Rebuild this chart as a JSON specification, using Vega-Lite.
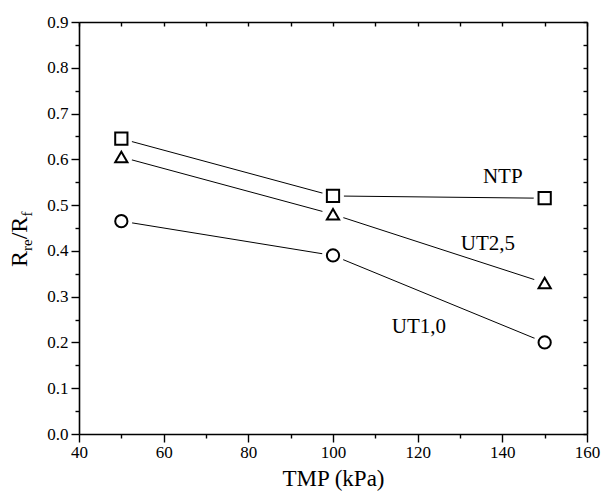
{
  "$schema": "https://vega.github.io/schema/vega-lite/v6.json",
  "width": 508,
  "height": 412,
  "autosize": {"type": "none"},
  "padding": {"left": 79, "top": 22, "right": 14, "bottom": 63},
  "background": "white",
  "config": {
    "view": {"stroke": null},
    "font": "Liberation Serif",
    "text": {"font": "Liberation Serif"},
    "axis": {
      "grid": false,
      "domainColor": "black",
      "domainWidth": 1.6,
      "tickColor": "black",
      "tickWidth": 1.4,
      "labelColor": "black",
      "labelFont": "Liberation Serif",
      "labelFontSize": 17,
      "titleFont": "Liberation Serif",
      "titleColor": "black",
      "titleFontWeight": "normal"
    }
  },
  "datasets": {
    "points": [
      {"series": "NTP", "TMP": 50, "R": 0.645},
      {"series": "NTP", "TMP": 100, "R": 0.52},
      {"series": "NTP", "TMP": 150, "R": 0.515},
      {"series": "UT2,5", "TMP": 50, "R": 0.605},
      {"series": "UT2,5", "TMP": 100, "R": 0.48},
      {"series": "UT2,5", "TMP": 150, "R": 0.33},
      {"series": "UT1,0", "TMP": 50, "R": 0.465},
      {"series": "UT1,0", "TMP": 100, "R": 0.39},
      {"series": "UT1,0", "TMP": 150, "R": 0.2}
    ],
    "notes": [
      {"label": "NTP", "TMP": 140.1, "R": 0.548},
      {"label": "UT2,5", "TMP": 136.6, "R": 0.403},
      {"label": "UT1,0", "TMP": 120.3, "R": 0.221}
    ]
  },
  "data": {"name": "points"},
  "layer": [
    {
      "mark": {"type": "line", "color": "black", "strokeWidth": 1},
      "encoding": {
        "x": {
          "field": "TMP", "type": "quantitative",
          "scale": {"domain": [40, 160], "nice": false, "zero": false},
          "axis": {
            "orient": "bottom", "values": [40, 60, 80, 100, 120, 140, 160],
            "tickSize": 8, "labelPadding": 2, "labelFlush": false,
            "labelFont": "Liberation Serif", "labelFontSize": 17,
            "title": "TMP (kPa)", "titleFontSize": 23, "titlePadding": 7
          }
        },
        "y": {
          "field": "R", "type": "quantitative",
          "scale": {"domain": [0, 0.9], "nice": false, "zero": false},
          "axis": {
            "orient": "left", "values": [0, 0.1, 0.2, 0.3, 0.4, 0.5, 0.6, 0.7, 0.8, 0.9],
            "format": ".1f", "tickSize": 8, "labelPadding": 3, "labelFlush": false,
            "labelFont": "Liberation Serif", "labelFontSize": 17,
            "title": null
          }
        },
        "detail": {"field": "series"}
      }
    },
    {
      "mark": {"type": "point", "shape": "circle", "filled": true, "fill": "white", "strokeWidth": 0, "size": 480, "opacity": 1},
      "encoding": {
        "x": {
          "field": "TMP", "type": "quantitative",
          "axis": {
            "orient": "bottom", "values": [50, 70, 90, 110, 130, 150],
            "tickSize": 4, "labels": false, "domain": false, "title": null
          }
        },
        "y": {
          "field": "R", "type": "quantitative",
          "axis": {
            "orient": "left", "values": [0.05, 0.15, 0.25, 0.35, 0.45, 0.55, 0.65, 0.75, 0.85],
            "tickSize": 4, "labels": false, "domain": false, "title": null
          }
        }
      }
    },
    {
      "mark": {"type": "point", "filled": false, "color": "black", "fill": "white", "strokeWidth": 2, "size": 150, "opacity": 1},
      "encoding": {
        "x": {
          "field": "TMP", "type": "quantitative",
          "axis": {
            "orient": "top", "values": [40, 50, 60, 70, 80, 90, 100, 110, 120, 130, 140, 150, 160],
            "tickSize": -4, "labels": false, "title": null
          }
        },
        "y": {
          "field": "R", "type": "quantitative",
          "axis": {
            "orient": "right", "values": [0, 0.05, 0.1, 0.15, 0.2, 0.25, 0.3, 0.35, 0.4, 0.45, 0.5, 0.55, 0.6, 0.65, 0.7, 0.75, 0.8, 0.85, 0.9],
            "tickSize": -4, "labels": false, "title": null
          }
        },
        "shape": {
          "field": "series", "type": "nominal",
          "scale": {"domain": ["NTP", "UT2,5", "UT1,0"], "range": ["square", "triangle-up", "circle"]},
          "legend": null
        }
      }
    },
    {
      "data": {"name": "notes"},
      "mark": {"type": "text", "fontSize": 21, "font": "Liberation Serif", "align": "center", "baseline": "alphabetic", "color": "black"},
      "encoding": {
        "x": {"field": "TMP", "type": "quantitative", "axis": null},
        "y": {"field": "R", "type": "quantitative", "axis": null},
        "text": {"field": "label"}
      }
    },
    {
      "data": {"values": [{}]},
      "mark": {"type": "text", "text": "R", "angle": 270, "fontSize": 24, "font": "Liberation Serif", "align": "left", "baseline": "alphabetic", "color": "black"},
      "encoding": {
        "x": {"datum": 27.72, "type": "quantitative", "axis": null},
        "y": {"datum": 0.3648, "type": "quantitative", "axis": null}
      }
    },
    {
      "data": {"values": [{}]},
      "mark": {"type": "text", "text": "re", "angle": 270, "fontSize": 15, "font": "Liberation Serif", "align": "left", "baseline": "alphabetic", "color": "black"},
      "encoding": {
        "x": {"datum": 28.9, "type": "quantitative", "axis": null},
        "y": {"datum": 0.3998, "type": "quantitative", "axis": null}
      }
    },
    {
      "data": {"values": [{}]},
      "mark": {"type": "text", "text": "/R", "angle": 270, "fontSize": 24, "font": "Liberation Serif", "align": "left", "baseline": "alphabetic", "color": "black"},
      "encoding": {
        "x": {"datum": 27.72, "type": "quantitative", "axis": null},
        "y": {"datum": 0.4253, "type": "quantitative", "axis": null}
      }
    },
    {
      "data": {"values": [{}]},
      "mark": {"type": "text", "text": "f", "angle": 270, "fontSize": 15, "font": "Liberation Serif", "align": "left", "baseline": "alphabetic", "color": "black"},
      "encoding": {
        "x": {"datum": 28.9, "type": "quantitative", "axis": null},
        "y": {"datum": 0.4749, "type": "quantitative", "axis": null}
      }
    }
  ],
  "resolve": {"axis": {"x": "independent", "y": "independent"}}
}
